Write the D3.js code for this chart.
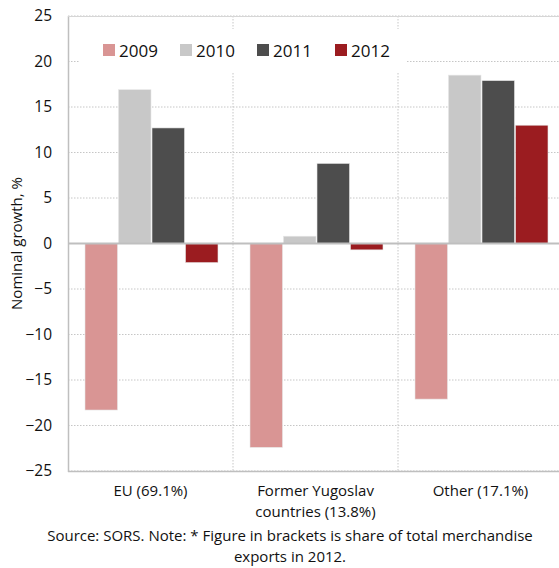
<!DOCTYPE html>
<html>
<head>
<meta charset="utf-8">
<script src="https://cdn.jsdelivr.net/npm/d3@7"></script>
<style>
  body { margin: 0; background: #fff; }
  svg { display: block; font-family: "Open Sans", "Noto Sans", sans-serif; }
</style>
</head>
<body>
<svg id="chart" width="559" height="568"></svg>
<script>
const categories = [["EU (69.1%)"], ["Former Yugoslav", "countries (13.8%)"], ["Other (17.1%)"]];
const years = ["2009", "2010", "2011", "2012"];
const colors = ["#d99594", "#c8c8c8", "#4d4d4d", "#9b1c20"];
const values2009 = [-18.3, -22.4, -17.1];
const values2010 = [16.9, 0.8, 18.5];
const values2011 = [12.7, 8.8, 17.9];
const values2012 = [-2.1, -0.7, 13.0];
const yTicks = [-25, -20, -15, -10, -5, 0, 5, 10, 15, 20, 25];
const note = ["Source: SORS. Note: * Figure in brackets is share of total merchandise", "exports in 2012."];

const series = [values2009, values2010, values2011, values2012];

const svg = d3.select("#chart");
const margin = { top: 16, left: 68, right: 563, bottom: 471 };

const x = d3.scaleBand().domain(d3.range(categories.length)).range([margin.left, margin.right]);
const xInner = d3.scaleBand().domain(years).range([16, x.bandwidth() - 14]).padding(0.03);
const y = d3.scaleLinear().domain([-25, 25]).range([margin.bottom, margin.top]);

const grid = svg.append("g");
// dotted gridlines
grid.selectAll("line.h").data(yTicks).join("line")
  .attr("x1", margin.left).attr("x2", margin.right)
  .attr("y1", d => y(d)).attr("y2", d => y(d))
  .attr("stroke", "#c6c6c6").attr("stroke-dasharray", "1.5,1.5");
grid.selectAll("line.v").data(d3.range(1, categories.length)).join("line")
  .attr("x1", d => x(d)).attr("x2", d => x(d))
  .attr("y1", margin.top).attr("y2", margin.bottom)
  .attr("stroke", "#c6c6c6").attr("stroke-dasharray", "1.5,1.5");

// legend box hides the grid behind it
svg.append("rect").attr("x", 79).attr("y", 29).attr("width", 327).attr("height", 44).attr("fill", "#fff");

// bars
const groups = svg.append("g").selectAll("g").data(series).join("g")
  .attr("fill", (d, i) => colors[i]);
groups.each(function (vals, si) {
  d3.select(this).selectAll("rect").data(vals).join("rect")
    .attr("x", (d, ci) => x(ci) + xInner(years[si]))
    .attr("width", xInner.bandwidth())
    .attr("y", d => y(Math.max(0, d)))
    .attr("height", d => Math.abs(y(d) - y(0)))
    .attr("stroke", "#e6e6e6").attr("stroke-width", 0.6);
});

// axis lines
svg.append("line").attr("x1", margin.left + 0.5).attr("x2", margin.left + 0.5)
  .attr("y1", margin.top).attr("y2", margin.bottom + 1).attr("stroke", "#bfbfbf").attr("stroke-width", 1.5);
svg.append("line").attr("x1", margin.left).attr("x2", margin.right)
  .attr("y1", margin.bottom + 0.5).attr("y2", margin.bottom + 0.5).attr("stroke", "#bfbfbf").attr("stroke-width", 1.5);
svg.append("line").attr("x1", margin.left).attr("x2", margin.right)
  .attr("y1", margin.top + 0.5).attr("y2", margin.top + 0.5).attr("stroke", "#d6d6d6");
svg.append("line").attr("x1", margin.left).attr("x2", margin.right)
  .attr("y1", y(0)).attr("y2", y(0)).attr("stroke", "#bfbfbf").attr("stroke-width", 2);

// y axis
const yAxis = d3.axisLeft(y).tickValues(yTicks).tickSize(0).tickPadding(16);
const ya = svg.append("g").attr("transform", `translate(${margin.left},0)`).call(yAxis);
ya.select(".domain").remove();
ya.selectAll("text").attr("font-size", 15.5).attr("fill", "#111").attr("font-family", "\"Open Sans\", sans-serif");

svg.append("text").attr("transform", `translate(22,${y(0)}) rotate(-90)`)
  .attr("text-anchor", "middle").attr("font-size", 15).attr("fill", "#111")
  .text("Nominal growth, %");

// category labels
svg.append("g").selectAll("text").data(categories).join("text")
  .attr("x", (d, i) => x(i) + x.bandwidth() / 2)
  .attr("y", 496)
  .attr("text-anchor", "middle").attr("font-size", 15).attr("fill", "#111")
  .each(function (lines) {
    d3.select(this).selectAll("tspan").data(lines).join("tspan")
      .attr("x", d3.select(this).attr("x"))
      .attr("dy", (d, k) => k === 0 ? 0 : 21)
      .text(d => d);
  });

// legend
const legendX = [103, 180, 257, 335];
const lg = svg.append("g").selectAll("g").data(years).join("g")
  .attr("transform", (d, i) => `translate(${legendX[i]},44)`);
lg.append("rect").attr("width", 12).attr("height", 12).attr("fill", (d, i) => colors[i]);
lg.append("text").attr("x", 16).attr("y", 12.5).attr("font-size", 17).attr("fill", "#111").text(d => d);

// note
svg.append("g").selectAll("text").data(note).join("text")
  .attr("x", 290).attr("y", (d, i) => 541 + i * 21)
  .attr("text-anchor", "middle").attr("font-size", 15).attr("fill", "#111")
  .text(d => d);
</script>
</body>
</html>
